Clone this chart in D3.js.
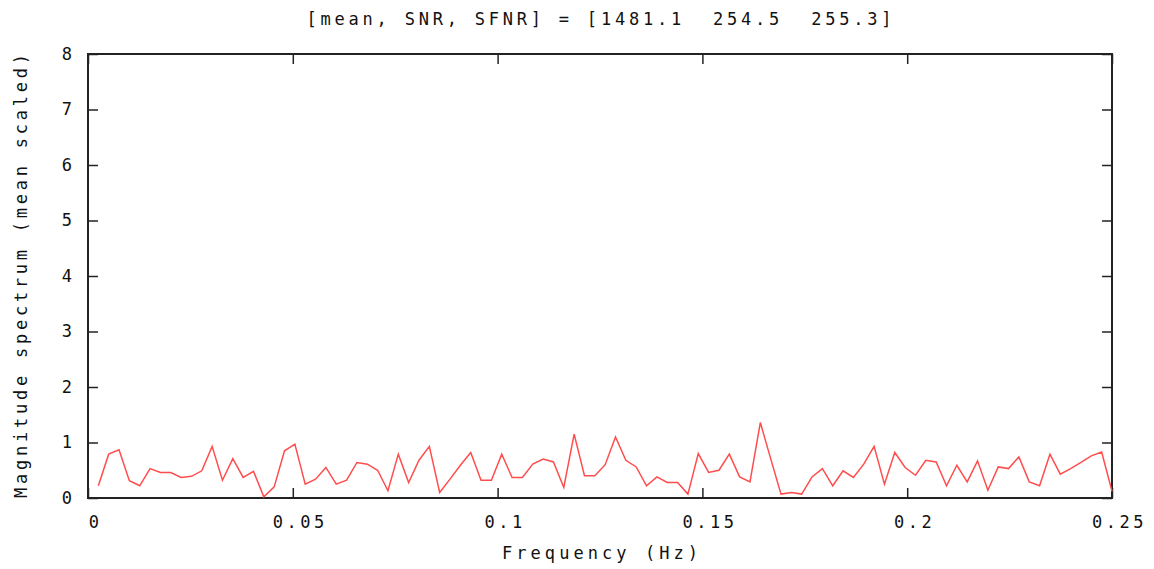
<!DOCTYPE html>
<html>
<head>
<meta charset="utf-8">
<script src="https://cdn.jsdelivr.net/npm/d3@7"></script>
<style>
  html, body { margin: 0; padding: 0; background: #fff; }
  svg text { font-family: "DejaVu Sans Mono", "Liberation Mono", monospace; fill: #111; white-space: pre; }
</style>
</head>
<body>
<svg id="chart" width="1154" height="569"></svg>
<script>
// ---- data ----
const titleText = "[mean, SNR, SFNR] = [1481.1  254.5  255.3]";
const xLabel = "Frequency (Hz)";
const yLabel = "Magnitude spectrum (mean scaled)";
const nTimepoints = 198;   // number of volumes
const TR = 2;              // seconds
const magnitude = [
  0.22, 0.79, 0.87, 0.31, 0.22, 0.53, 0.46, 0.46, 0.37, 0.39,
  0.49, 0.93, 0.32, 0.71, 0.37, 0.48, 0.02, 0.20, 0.85, 0.97,
  0.25, 0.34, 0.55, 0.25, 0.32, 0.64, 0.61, 0.50, 0.13, 0.79,
  0.28, 0.68, 0.93, 0.10, 0.34, 0.59, 0.82, 0.32, 0.32, 0.79,
  0.37, 0.37, 0.61, 0.70, 0.65, 0.19, 1.15, 0.40, 0.40, 0.60,
  1.10, 0.68, 0.56, 0.22, 0.38, 0.28, 0.28, 0.07, 0.80, 0.46,
  0.50, 0.79, 0.38, 0.29, 1.36, 0.71, 0.07, 0.10, 0.07, 0.38,
  0.53, 0.22, 0.49, 0.37, 0.61, 0.93, 0.25, 0.82, 0.55, 0.41,
  0.68, 0.65, 0.22, 0.59, 0.29, 0.67, 0.14, 0.56, 0.53, 0.74,
  0.29, 0.22, 0.79, 0.43, 0.53, 0.64, 0.76, 0.83, 0.12
];
const xTicks = [0, 0.05, 0.1, 0.15, 0.2, 0.25];
const xTickLabels = ["0", "0.05", "0.1", "0.15", "0.2", "0.25"];
const yTicks = [0, 1, 2, 3, 4, 5, 6, 7, 8];

// frequencies of the spectrum bins (k / (N*TR))
const freqs = magnitude.map((_, i) => (i + 1) / (nTimepoints * TR));
const points = magnitude.map((v, i) => ({ f: freqs[i], v }));

// ---- layout ----
const svg = d3.select("#chart");
const L = 88, R = 1112, T = 54, B = 498;
const x = d3.scaleLinear().domain([0, 0.25]).range([L, R]);
const y = d3.scaleLinear().domain([0, 8]).range([B, T]);

const tickLen = 10;
const fmtX = d => xTickLabels[xTicks.indexOf(d)];

const gBottom = svg.append("g").attr("transform", `translate(0,${B})`)
  .call(d3.axisBottom(x).tickValues(xTicks).tickSize(-tickLen).tickPadding(18).tickFormat(fmtX));
const gTop = svg.append("g").attr("transform", `translate(0,${T})`)
  .call(d3.axisTop(x).tickValues(xTicks).tickSize(-tickLen).tickFormat(""));
const gLeft = svg.append("g").attr("transform", `translate(${L},0)`)
  .call(d3.axisLeft(y).tickValues(yTicks).tickSize(-tickLen).tickPadding(16).tickFormat(d3.format("d")));
const gRight = svg.append("g").attr("transform", `translate(${R},0)`)
  .call(d3.axisRight(y).tickValues(yTicks).tickSize(-tickLen).tickFormat(""));

[gBottom, gTop, gLeft, gRight].forEach(g => {
  g.select(".domain").remove();
  g.selectAll(".tick line").attr("stroke", "#222").attr("stroke-width", 1.5);
  g.selectAll("text").attr("font-size", 17).attr("fill", "#111")
    .attr("font-family", "DejaVu Sans Mono, monospace");
});
gBottom.selectAll(".tick text").attr("letter-spacing", "3.5px").attr("dx", 7);

// frame
svg.append("rect")
  .attr("x", L).attr("y", T).attr("width", R - L).attr("height", B - T)
  .attr("fill", "none").attr("stroke", "#222").attr("stroke-width", 2);

// line
const line = d3.line().x(d => x(d.f)).y(d => y(d.v));
svg.append("path").datum(points)
  .attr("d", line)
  .attr("fill", "none")
  .attr("stroke", "#ff4d4d")
  .attr("stroke-width", 1.5)
  .attr("stroke-linejoin", "miter");

// title
svg.append("text")
  .attr("x", 599).attr("y", 25)
  .attr("text-anchor", "middle")
  .attr("font-size", 17)
  .attr("textLength", 585).attr("lengthAdjust", "spacing")
  .text(titleText);

// x axis title
svg.append("text")
  .attr("x", 600).attr("y", 559)
  .attr("text-anchor", "middle")
  .attr("font-size", 17)
  .attr("textLength", 196).attr("lengthAdjust", "spacing")
  .text(xLabel);

// y axis title
svg.append("text")
  .attr("transform", `translate(27,${(T + B) / 2}) rotate(-90)`)
  .attr("text-anchor", "middle")
  .attr("font-size", 17)
  .attr("textLength", 444).attr("lengthAdjust", "spacing")
  .text(yLabel);
</script>
</body>
</html>
